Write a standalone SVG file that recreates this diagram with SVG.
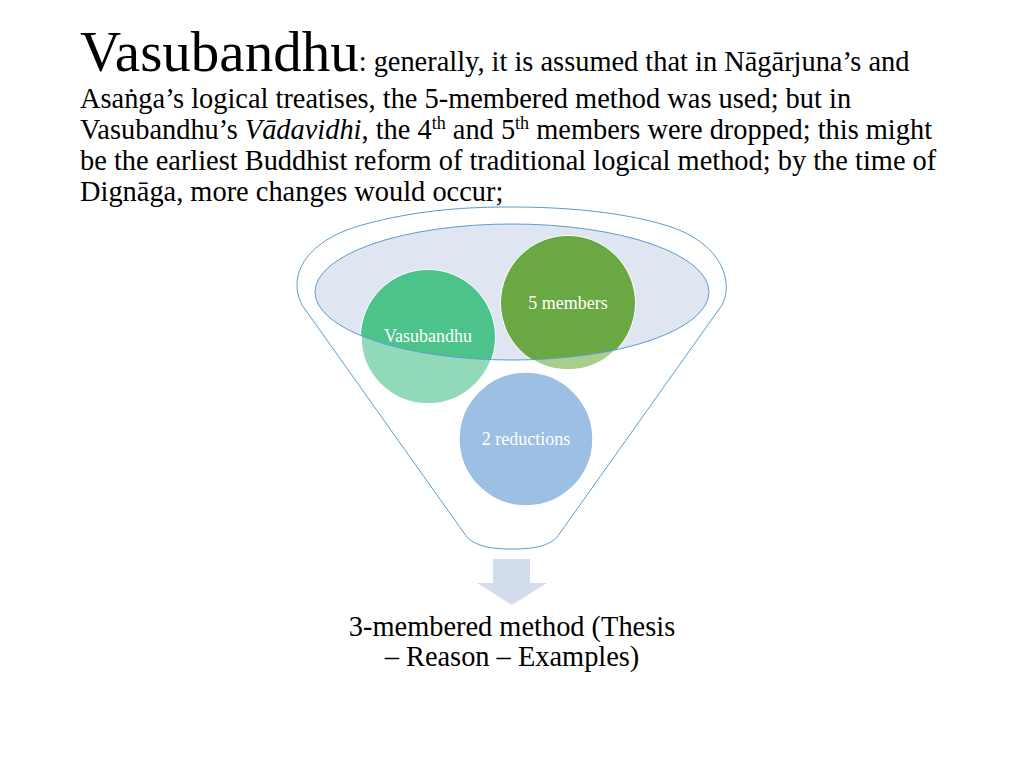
<svg xmlns="http://www.w3.org/2000/svg" width="1024" height="768" viewBox="0 0 1024 768">
<style>
.t{font-family:"Liberation Serif","Times New Roman",serif;fill:#000}
.b{font-size:28.4px}
.c{font-family:"Liberation Serif","Times New Roman",serif;font-size:18px;fill:#fff;text-anchor:middle}
.rim{fill:none;stroke:#5b9bd5;stroke-width:1}
</style>
<defs>
<clipPath id="ell"><ellipse cx="512" cy="292" rx="197" ry="68"/></clipPath>
</defs>
<rect width="1024" height="768" fill="#fff"/>
<g id="heading">
<text class="t" x="80" y="71"><tspan font-size="57">Vasubandhu</tspan><tspan class="b">: generally, it is assumed that in Nāgārjuna’s and</tspan></text>
<text class="t b" x="80" y="108">Asaṅga’s logical treatises, the 5-membered method was used; but in</text>
<text class="t b" x="80" y="139">Vasubandhu’s <tspan font-style="italic">Vādavidhi</tspan>, the 4<tspan font-size="18" dy="-10">th</tspan><tspan dy="10"> and 5</tspan><tspan font-size="18" dy="-10">th</tspan><tspan dy="10"> members were dropped; this might</tspan></text>
<text class="t b" x="80" y="170">be the earliest Buddhist reform of traditional logical method; by the time of</text>
<text class="t b" x="80" y="201">Dignāga, more changes would occur;</text>
</g>
<g id="funnel">
<path class="rim" d="M302,305 C288,278 302,242 362,225 C420,209 470,207 512,207 C560,207 620,211 668,226 C722,243 734,282 722,305 L560,533 C552,546 535,549 512,549 C490,549 472,546 464,533 Z"/>
<ellipse cx="512" cy="292" rx="197" ry="68" fill="#dfe6f2"/>
</g>
<g id="vasubandhu">
<circle cx="428" cy="337" r="67" fill="#92dab7" stroke="#fff" stroke-width="1.5"/>
<circle cx="428" cy="337" r="67" fill="#4cc38b" clip-path="url(#ell)"/>
<text class="c" x="428" y="342">Vasubandhu</text>
</g>
<g id="members">
<circle cx="568" cy="303" r="67" fill="#a6cf8c" stroke="#fff" stroke-width="1.5"/>
<circle cx="568" cy="303" r="67" fill="#6aa843" clip-path="url(#ell)"/>
<text class="c" x="568" y="309">5 members</text>
</g>
<g id="reductions">
<circle cx="526" cy="439" r="67" fill="#9cc0e4" stroke="#fff" stroke-width="1.5"/>
<text class="c" x="526" y="445">2 reductions</text>
</g>
<g id="connectors">
<ellipse class="rim" cx="512" cy="292" rx="197" ry="68"/>
<path d="M493,559 H530 V583 H547 L512,605 L477,583 H493 Z" fill="#d3dcec"/>
</g>
<g id="result">
<text class="t b" x="512" y="636" text-anchor="middle">3-membered method (Thesis</text>
<text class="t b" x="512" y="666" text-anchor="middle">– Reason – Examples)</text>
</g>
</svg>
